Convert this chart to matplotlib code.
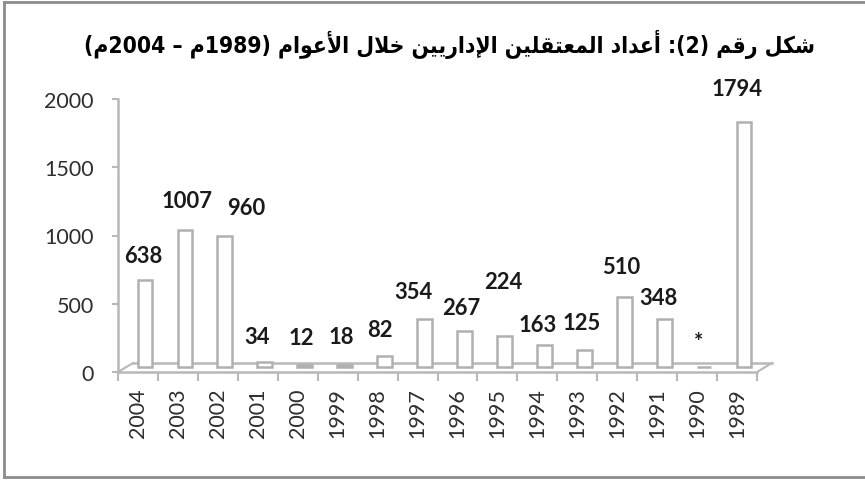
import re
import matplotlib
matplotlib.use('Agg')
import matplotlib.pyplot as plt
from matplotlib.transforms import ScaledTranslation
from matplotlib.lines import Line2D

# data
years = ['2004', '2003', '2002', '2001', '2000', '1999', '1998', '1997',
         '1996', '1995', '1994', '1993', '1992', '1991', '1990', '1989']
counts = [638, 1007, 960, 34, 12, 18, 82, 354,
          267, 224, 163, 125, 510, 348, 0, 1794]
value_labels = ['638', '1007', '960', '34', '12', '18', '82', '354',
                '267', '224', '163', '125', '510', '348', '*', '1794']

# where Excel put each data label (pixels from the value point)
label_dx = [5, 9, 28, -1, 4, 4, 2, -4, 4, 6, 0, 4, 4, 1, 1, 0]
label_dy = [29, 34, 33, 31, 33, 33, 31, 32, 28, 60, 25, 32, 36, 27, 30, 39]

title = 'شكل رقم (2): أعداد المعتقلين الإداريين خلال الأعوام (1989م – 2004م)'

# --- tiny arabic shaper (matplotlib does no shaping / bidi itself) ---
FORMS = {
    'ا': ('\uFE8D', '\uFE8E', None, None),
    'أ': ('\uFE83', '\uFE84', None, None),
    'إ': ('\uFE87', '\uFE88', None, None),
    'ت': ('\uFE95', '\uFE96', '\uFE97', '\uFE98'),
    'خ': ('\uFEA5', '\uFEA6', '\uFEA7', '\uFEA8'),
    'د': ('\uFEA9', '\uFEAA', None, None),
    'ر': ('\uFEAD', '\uFEAE', None, None),
    'ش': ('\uFEB5', '\uFEB6', '\uFEB7', '\uFEB8'),
    'ع': ('\uFEC9', '\uFECA', '\uFECB', '\uFECC'),
    'ق': ('\uFED5', '\uFED6', '\uFED7', '\uFED8'),
    'ك': ('\uFED9', '\uFEDA', '\uFEDB', '\uFEDC'),
    'ل': ('\uFEDD', '\uFEDE', '\uFEDF', '\uFEE0'),
    'م': ('\uFEE1', '\uFEE2', '\uFEE3', '\uFEE4'),
    'ن': ('\uFEE5', '\uFEE6', '\uFEE7', '\uFEE8'),
    'و': ('\uFEED', '\uFEEE', None, None),
    'ي': ('\uFEF1', '\uFEF2', '\uFEF3', '\uFEF4'),
}
LAM_ALEF = {'ا': ('\uFEFB', '\uFEFC'), 'أ': ('\uFEF7', '\uFEF8'),
            'إ': ('\uFEF9', '\uFEFA')}
MIRROR = {'(': ')', ')': '('}


def shape_word(w):
    units = []
    i = 0
    while i < len(w):
        if w[i] == 'ل' and i + 1 < len(w) and w[i + 1] in LAM_ALEF:
            units.append(('LA', w[i + 1]))
            i += 2
        else:
            units.append(('C', w[i]))
            i += 1

    def joins_left(u):
        return u[0] == 'C' and u[1] in FORMS and FORMS[u[1]][2] is not None

    out = []
    for k, (kind, ch) in enumerate(units):
        prev = units[k - 1] if k > 0 else None
        nxt = units[k + 1] if k + 1 < len(units) else None
        jp = prev is not None and joins_left(prev)
        if kind == 'LA':
            out.append(LAM_ALEF[ch][1 if jp else 0])
            continue
        f = FORMS.get(ch)
        if f is None:
            out.append(ch)
            continue
        jn = f[2] is not None and nxt is not None
        if jp and jn:
            out.append(f[3])
        elif jp:
            out.append(f[1])
        elif jn:
            out.append(f[2])
        else:
            out.append(f[0])
    return ''.join(out)


def visual(text):
    toks = re.findall(r'[\u0600-\u06FF]+|\d+|.', text)
    res = []
    for t in reversed(toks):
        if re.match(r'[\u0600-\u06FF]', t):
            res.append(shape_word(t)[::-1])
        else:
            res.append(MIRROR.get(t, t))
    return ''.join(res)


# --- figure ---
fig = plt.figure(figsize=(8.65, 4.81), dpi=100)
ax = fig.add_axes([118 / 865, 108 / 481, 639 / 865, 273 / 481])

x = list(range(len(years)))
depth = ax.transData + ScaledTranslation(7 / 100, 5 / 100, fig.dpi_scale_trans)
back = ax.transData + ScaledTranslation(15 / 100, 9 / 100, fig.dpi_scale_trans)

# floor of the 3d plot
grey = '#b8b8b8'
ax.add_line(Line2D([-0.5, 15.5], [0, 0], transform=back, color=grey, lw=1.8,
                   zorder=1, clip_on=False))
ax.plot([-0.5, -0.5 + 15 / 40], [0, 9 / 273 * 2000], color=grey, lw=1.5,
        clip_on=False, zorder=1)
ax.plot([15.5, 15.5 + 15 / 40], [0, 9 / 273 * 2000], color=grey, lw=1.5,
        clip_on=False, zorder=1)

ax.bar(x, counts, width=0.37, color='white', edgecolor='#b0b0b0',
       linewidth=1.8, transform=depth, zorder=3)

for i, (v, s) in enumerate(zip(counts, value_labels)):
    ax.annotate(s, xy=(i, v), xytext=(label_dx[i], label_dy[i]),
                textcoords='offset pixels', ha='center', va='center',
                fontsize=15.8, fontweight='bold', family='Lato',
                color='#1a1a1a', zorder=5)

ax.set_xlim(-0.5, 15.5)
ax.set_ylim(0, 2000)
ax.set_yticks([0, 500, 1000, 1500, 2000])
ax.set_xticks(x)
ax.set_xticklabels(years, rotation=90)
ax.set_xticks([i - 0.5 for i in range(len(years) + 1)], minor=True)
ax.tick_params(axis='x', which='major', length=0, pad=11)
ax.tick_params(axis='x', which='minor', length=6.5, width=1.5, color=grey)
ax.tick_params(axis='y', length=4.5, width=1.5, color=grey, pad=13)
for lab in ax.get_xticklabels() + ax.get_yticklabels():
    lab.set_family('Lato')
    lab.set_fontsize(15.5)
    lab.set_color('#2e2e2e')

for side in ('top', 'right'):
    ax.spines[side].set_visible(False)
for side in ('left', 'bottom'):
    ax.spines[side].set_color(grey)
    ax.spines[side].set_linewidth(1.8)

fig.text(449 / 865, 1 - 44 / 481, visual(title), ha='center', va='center',
         fontsize=16.4, fontweight='bold', fontstretch='condensed',
         family='DejaVu Sans', color='black')

# frame around the picture (right edge cut off in the original)
border = '#8c8c8c'
fig.add_artist(Line2D([4 / 865, 4 / 865], [3 / 481, 1 - 3 / 481],
                      transform=fig.transFigure, color=border, lw=2))
fig.add_artist(Line2D([4 / 865, 1], [1 - 3 / 481, 1 - 3 / 481],
                      transform=fig.transFigure, color=border, lw=2))
fig.add_artist(Line2D([4 / 865, 1], [3 / 481, 3 / 481],
                      transform=fig.transFigure, color=border, lw=2))

fig.savefig('out.png', dpi=100)
